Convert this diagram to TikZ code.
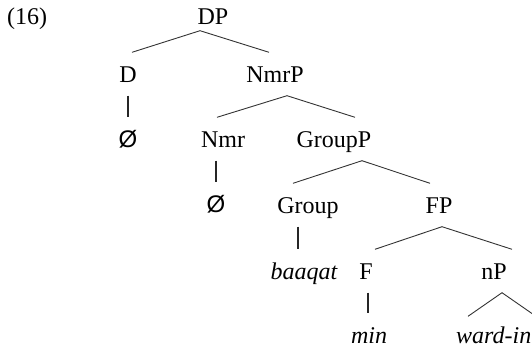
\documentclass[tikz,border=0pt]{standalone}
\usepackage{fontspec}
\setmainfont{Liberation Serif}
\newfontfamily\slashfont{Liberation Sans}
\tikzset{
  cat/.style={anchor=base,inner xsep=0pt,inner ysep=13.5pt,text height=16pt,text depth=0pt,
              font=\fontsize{24}{29}\selectfont},   % tree label
  word/.style={cat,font=\fontsize{24}{29}\selectfont\itshape}, % terminal word
  branch/.style={draw=black!80,line width=0.9pt},
  stem/.style={draw=black!85,line width=1.2pt},
}
\newcommand{\emptycat}{{\slashfont Ø}}

\begin{document}
\begin{tikzpicture}[x=1pt,y=-1pt]
  \useasboundingbox (0,0) rectangle (532,348);
  \node[cat,anchor=base west] (ex) at (7,24) {(16)};
  % labels, row by row
  \node[cat] (DP) at (213,24) {DP};
  \node[cat] (D) at (128,82) {D};
  \node[cat] (NmrP) at (275,82) {NmrP};
  \node[cat] (Dnull) at (128,147) {\emptycat};
  \node[cat] (Nmr) at (223,147) {Nmr};
  \node[cat] (GroupP) at (334,147) {GroupP};
  \node[cat] (Nmrnull) at (216,212) {\emptycat};
  \node[cat] (Group) at (308,213) {Group};
  \node[cat] (FP) at (439,213) {FP};
  \node[word] (baaqat) at (304,279) {baaqat};
  \node[cat] (F) at (366,279) {F};
  \node[cat] (nP) at (494,279) {nP};
  \node[word] (min) at (369,343) {min};
  \node[word,anchor=base west] (ward) at (456,343) {ward-in};

  % branching
  \draw[branch] ([xshift=4pt]D.north) -- ([xshift=-13pt,yshift=7pt]DP.south) -- ([xshift=-6pt]NmrP.north);
  \draw[branch] ([xshift=-6pt]Nmr.north) -- ([xshift=12pt]NmrP.south) -- ([xshift=21pt]GroupP.north);
  \draw[branch] ([xshift=-15pt]Group.north) -- ([xshift=28pt]GroupP.south) -- ([xshift=-9pt]FP.north);
  \draw[branch] ([xshift=9pt]F.north) -- ([xshift=3pt]FP.south) -- ([xshift=18pt]nP.north);
  \draw[branch] ([xshift=12pt,yshift=-3pt]ward.north west) -- ([xshift=8pt]nP.south) -- ([xshift=80pt,yshift=-3pt]ward.north west);

  % unary lines
  \draw[stem] ([xshift=-7pt]Nmr.south) -- (Nmrnull.north);
  \draw[stem] (D.south) -- (Dnull.north);
  \draw[stem] ([xshift=-10pt]Group.south) -- ([xshift=-6pt]baaqat.north);
  \draw[stem] ([xshift=2pt]F.south) -- ([xshift=-1pt]min.north);
\end{tikzpicture}
\end{document}
